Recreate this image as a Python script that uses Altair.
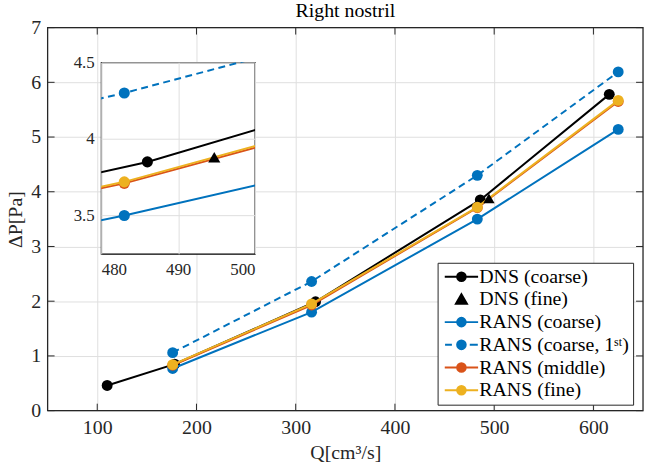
import altair as alt
import pandas as pd

# ---------------- data ----------------
dns_coarse_q = [110, 178, 320, 486, 616]
dns_coarse_dp = [0.46, 0.85, 1.99, 3.85, 5.78]
dns_fine_q = [494.7]
dns_fine_dp = [3.88]
rans_q = [176, 316, 483, 625]
rans_coarse_dp = [0.77, 1.80, 3.50, 5.14]
rans_coarse_1st_dp = [1.06, 2.36, 4.30, 6.19]
rans_middle_dp = [0.83, 1.93, 3.71, 5.65]
rans_fine_dp = [0.84, 1.95, 3.72, 5.67]

series_names = ["DNS (coarse)", "DNS (fine)", "RANS (coarse)",
                "RANS (coarse, 1ˢᵗ)", "RANS (middle)", "RANS (fine)"]
series_colors = ["#000000", "#000000", "#0072BD", "#0072BD", "#D95319", "#EDB120"]

x_ticks = [100, 200, 300, 400, 500, 600]
y_ticks = [0, 1, 2, 3, 4, 5, 6, 7]
inset_x_ticks = [480, 490, 500]
inset_y_ticks = [3.5, 4.0, 4.5]

main_x_domain = [50, 650]
main_y_domain = [0, 7]
inset_x_domain = [480, 500]
inset_y_domain = [3.25, 4.5]

FONT = "Liberation Serif"
INK = "#262626"
GRID = "#dfdfdf"

W, H = 600, 386            # main plot area
IN_X, IN_Y = 54, 35        # inset offset inside main plot
IN_W, IN_H = 155, 193      # inset size

rows = []
for q, v in zip(dns_coarse_q, dns_coarse_dp):
    rows.append({"series": series_names[0], "q": q, "dp": v})
for q, v in zip(dns_fine_q, dns_fine_dp):
    rows.append({"series": series_names[1], "q": q, "dp": v})
for name, vals in zip(series_names[2:], [rans_coarse_dp, rans_coarse_1st_dp,
                                          rans_middle_dp, rans_fine_dp]):
    for q, v in zip(rans_q, vals):
        rows.append({"series": name, "q": q, "dp": v})
df = pd.DataFrame(rows)

draw_order = [0, 2, 3, 4, 5, 1]


def series_layers(xenc, yenc, lw, msize, tsize, dash, clip):
    layers = []
    for i in draw_order:
        name = series_names[i]
        color = series_colors[i]
        sub = df[df["series"] == name]
        if name != series_names[1]:
            line_kw = dict(color=color, strokeWidth=lw, clip=clip)
            if i == 3:
                line_kw["strokeDash"] = dash
            layers.append(alt.Chart(sub).mark_line(**line_kw).encode(x=xenc, y=yenc))
            layers.append(alt.Chart(sub).mark_point(filled=True, shape="circle", size=msize,
                                                    color=color, opacity=1, clip=clip)
                          .encode(x=xenc, y=yenc))
        else:
            layers.append(alt.Chart(sub).mark_point(filled=True, shape="triangle-up", size=tsize,
                                                    color=color, opacity=1, clip=clip)
                          .encode(x=xenc, y=yenc))
    return layers


# ---------------- main plot ----------------
main_xs = alt.Scale(domain=main_x_domain, range=[0, W], nice=False, zero=False)
main_ys = alt.Scale(domain=main_y_domain, nice=False, zero=False)
main_xaxis = alt.Axis(values=x_ticks, grid=True, gridColor=GRID, gridWidth=1, domain=False,
                      ticks=False, labelFont=FONT, labelFontSize=20, labelColor=INK,
                      labelPadding=7, title="Q[cm³/s]", titleFont=FONT, titleFontSize=20,
                      titleFontWeight="normal", titleColor=INK, titlePadding=5)
main_yaxis = alt.Axis(values=y_ticks, format="d", grid=True, gridColor=GRID, gridWidth=1,
                      domain=False, ticks=False, labelFont=FONT, labelFontSize=20,
                      labelColor=INK, labelPadding=7, title="ΔP[Pa]", titleFont=FONT,
                      titleFontSize=20, titleFontWeight="normal", titleColor=INK,
                      titlePadding=5)
mx = alt.X("q:Q", scale=main_xs, axis=main_xaxis)
my = alt.Y("dp:Q", scale=main_ys, axis=main_yaxis)

main_layers = series_layers(mx, my, 2, 120, 130, [7, 4.5], False)

# box and inward ticks
box = pd.DataFrame({"b": [0]})
main_layers.append(alt.Chart(box).mark_rect(fill="transparent", stroke=INK, strokeWidth=1.3)
                   .encode(x=alt.value(0), x2=alt.value(W), y=alt.value(0), y2=alt.value(H)))
xt = pd.DataFrame({"t": x_ticks})
yt = pd.DataFrame({"t": y_ticks})
tx = alt.X("t:Q", scale=main_xs, axis=main_xaxis)
ty = alt.Y("t:Q", scale=main_ys, axis=main_yaxis)
main_layers.append(alt.Chart(xt).mark_rule(color=INK, strokeWidth=1)
                   .encode(x=tx, y=alt.value(H), y2=alt.value(H - 7)))
main_layers.append(alt.Chart(xt).mark_rule(color=INK, strokeWidth=1)
                   .encode(x=tx, y=alt.value(0), y2=alt.value(7)))
main_layers.append(alt.Chart(yt).mark_rule(color=INK, strokeWidth=1)
                   .encode(y=ty, x=alt.value(0), x2=alt.value(7)))
main_layers.append(alt.Chart(yt).mark_rule(color=INK, strokeWidth=1)
                   .encode(y=ty, x=alt.value(W), x2=alt.value(W - 7)))

# legend carrier (no marks drawn, legend from explicit domains)
line_circle = ("M-2.8,0L2.8,0M-0.72,0A0.72,0.72 0 1,1 0.72,0"
               "A0.72,0.72 0 1,1 -0.72,0Z")
dash_circle = ("M-2.75,0L-1.6,0M1.4,0L2.75,0M-0.72,0A0.72,0.72 0 1,1 0.72,0"
               "A0.72,0.72 0 1,1 -0.72,0Z")
triangle = "M0,-0.85L0.92,0.72L-0.92,0.72Z"
legend_shapes = [line_circle, triangle, line_circle, dash_circle, line_circle, line_circle]

leg = alt.Legend(orient="none", legendX=393, legendY=237, title=None, titlePadding=0,
                 labelFont=FONT, labelFontSize=20, labelColor="black", labelLimit=400,
                 symbolSize=144, symbolStrokeWidth=2, symbolOffset=10, labelOffset=8,
                 symbolOpacity=1, padding=4, rowPadding=2.9, fillColor="white",
                 strokeColor=INK, cornerRadius=0)
main_layers.append(
    alt.Chart(df).transform_filter("datum.q < 0")
    .mark_point(filled=True, opacity=1)
    .encode(
        x=mx, y=my,
        color=alt.Color("series:N", scale=alt.Scale(domain=series_names, range=series_colors),
                        legend=leg),
        stroke=alt.Stroke("series:N", scale=alt.Scale(domain=series_names, range=series_colors),
                          legend=leg),
        shape=alt.Shape("series:N", scale=alt.Scale(domain=series_names, range=legend_shapes),
                        legend=leg),
    )
)

# the main view claims only IN_X px of layout width so that the inset cell lands inside it
main = alt.layer(*main_layers).properties(width=IN_X, height=H)

# ---------------- inset ----------------
in_xs = alt.Scale(domain=inset_x_domain, nice=False, zero=False)
in_ys = alt.Scale(domain=inset_y_domain, nice=False, zero=False)
in_xaxis = alt.Axis(values=inset_x_ticks, format="d", grid=True, gridColor=GRID, domain=False,
                    ticks=False, labelFont=FONT, labelFontSize=17, labelColor=INK,
                    labelPadding=8, title=None)
in_yaxis = alt.Axis(values=inset_y_ticks, format="~g", grid=True, gridColor=GRID, domain=False,
                    ticks=False, labelFont=FONT, labelFontSize=17, labelColor=INK,
                    labelPadding=7, title=None)
ix = alt.X("q:Q", scale=in_xs, axis=in_xaxis)
iy = alt.Y("dp:Q", scale=in_ys, axis=in_yaxis)
inset = alt.layer(*series_layers(ix, iy, 2, 125, 150, [7, 4.5], True)).properties(
    width=IN_W, height=IN_H,
    view=alt.ViewBackground(stroke="black", strokeWidth=1.3, fill="white"),
)

spacer = alt.Chart(pd.DataFrame({"a": [0]})).mark_point(opacity=0).encode(
    x=alt.value(0), y=alt.value(0)
).properties(width=IN_W, height=IN_Y)

column = alt.vconcat(spacer, inset, spacing=0, bounds="flush")
chart = alt.hconcat(main, column, spacing=0, bounds="flush").properties(
    title=alt.TitleParams("Right nostril", font=FONT, fontSize=20, fontWeight="normal",
                          color="black", offset=0, dy=4, anchor="start", frame="group",
                          align="center", dx=W / 2),
    padding={"left": 5, "top": -1, "right": 1, "bottom": 4},
    background="white",
).configure_view(stroke="transparent")

chart.save("out.html", embed_options={"renderer": "svg", "actions": False})
